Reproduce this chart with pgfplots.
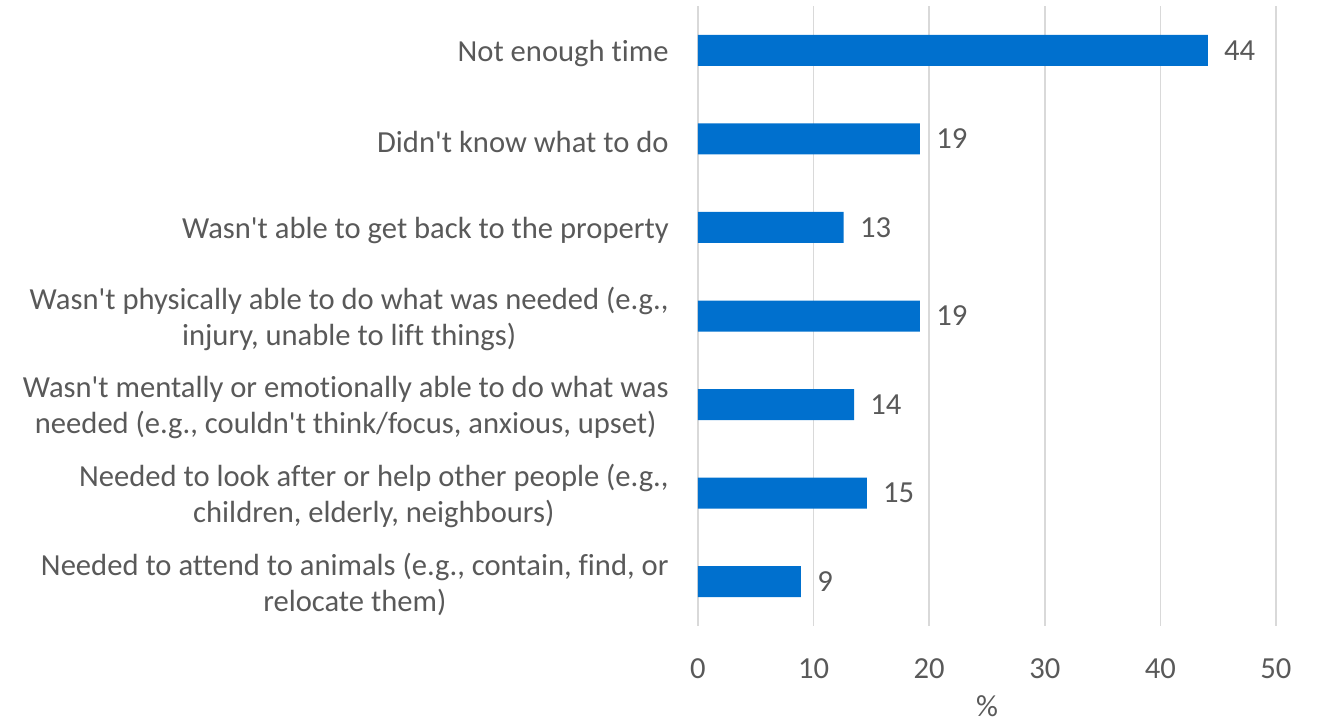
\documentclass[border=0pt]{standalone}
\usepackage{fontspec}
\setmainfont{Carlito}[Ligatures={NoCommon}]
\usepackage{pgfplots}
\pgfplotsset{compat=1.18}
\usepackage{pgfplotstable}
\definecolor{barblue}{RGB}{0,112,206}
\definecolor{txt}{RGB}{89,89,89}
\definecolor{gridc}{RGB}{217,217,217}
\newcommand{\ap}{\textquotesingle}
\pgfplotstableread{
y x lab
0 44.1 44
1 19.2 19
2 12.6 13
3 19.2 19
4 13.5 14
5 14.6 15
6 8.9 9
}\datatable
\begin{document}
\begin{tikzpicture}
\useasboundingbox (-349pt,-48.5pt) rectangle (310.5pt,313pt);
\begin{axis}[
  scale only axis,
  width=289pt, height=310pt,
  xbar, bar width=0.35,
  xmin=0, xmax=50, ymin=-0.5, ymax=6.5,
  y dir=reverse,
  xtick={0,10,20,30,40,50},
  ytick={0,1,2,3,4,5,6},
  yticklabels={
    {Not enough time},
    {Didn\ap t know what to do},
    {Wasn\ap t able to get back to the property},
    {Wasn\ap t physically able to do what was needed (e.g.,\\injury, unable to lift things)},
    {Wasn\ap t mentally or emotionally able to do what was\\needed (e.g., couldn\ap t think/focus, anxious, upset)},
    {Needed to look after or help other people (e.g.,\\children, elderly, neighbours)},
    {Needed to attend to animals (e.g., contain, find, or\\relocate them)}
  },
  /pgf/number format/assume math mode=true,
  ticklabel style={font=\fontsize{15.3}{18}\selectfont, text=txt},
  yticklabel style={align=center, inner sep=0pt, xshift=-14.5pt, yshift=-1.5pt},
  xticklabel style={yshift=-13pt},
  xlabel={\%},
  xlabel style={font=\fontsize{15.3}{18}\selectfont, text=txt, yshift=-1.5pt},
  major tick length=0pt,
  axis line style={draw=none},
  xmajorgrids, ymajorgrids=false,
  major grid style={draw=gridc, line width=0.75pt},
  nodes near coords,
  point meta=explicit symbolic,
  nodes near coords style={font=\fontsize{15.3}{18}\selectfont, text=txt, anchor=west, inner sep=0pt, xshift=8pt},
  clip=false,
]
\addplot[fill=barblue, draw=none] table[x=x, y=y, meta=lab] {\datatable};
\end{axis}
\end{tikzpicture}
\end{document}
